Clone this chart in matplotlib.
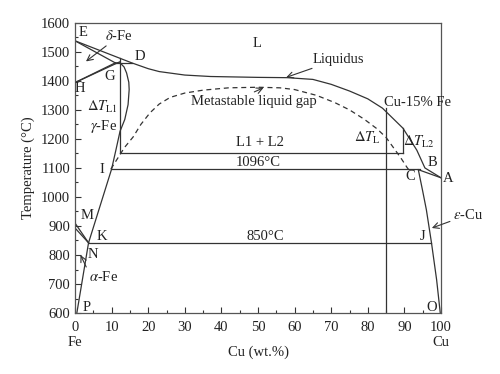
import numpy as np
import matplotlib
matplotlib.use('Agg')
import matplotlib.pyplot as plt

plt.rcParams['font.family'] = ['Liberation Serif', 'DejaVu Serif']
plt.rcParams['mathtext.fontset'] = 'stix'

# phase boundary data (Cu wt.%, temperature in C)
liq_x = [0, 15.5, 20, 23, 30, 37, 50, 58, 65, 70, 75, 80, 84, 89.6, 93.4, 95.6, 100]
liq_t = [1538, 1462, 1442, 1432, 1420, 1415, 1412, 1411, 1405, 1388, 1365, 1338, 1306, 1237, 1161, 1100, 1066]

gap_x = [9.8, 11.5, 13.5, 15.9, 18, 20.5, 23, 26, 30, 35, 42, 50, 56, 60, 66, 71, 75, 79, 82.5, 85, 87, 89, 90.7, 91.3]
gap_t = [1096, 1130, 1170, 1207, 1250, 1290, 1320, 1343, 1358, 1368, 1376, 1378, 1376, 1370, 1350, 1325, 1300, 1268, 1235, 1205, 1170, 1135, 1102, 1092]

gam_x = [11.0, 12.3, 13.4, 14.1, 14.7, 14.8, 14.5, 13.6, 12.3, 11.2, 10.0, 3.7, 0.5]
gam_t = [1462, 1462, 1448, 1427, 1395, 1370, 1318, 1267, 1226, 1163, 1096, 842, 600]

eps_x = [93.8, 95.0, 96.0, 97.4, 98.8, 99.8]
eps_t = [1094, 1020, 956, 842, 715, 600]

t_monotectic = 1096
t_eutectoid = 842
t_l1l2 = 1150
x_alloy = 85

fig = plt.figure(figsize=(5, 3.74), dpi=100)
ax = fig.add_axes([0.15, 0.163, 0.732, 0.776])

lc = '#333333'
lw = 0.9

ax.plot(liq_x, liq_t, color=lc, lw=lw)
ax.plot(gap_x, gap_t, color=lc, lw=lw, ls=(0, (4, 3)))
ax.plot(gam_x, gam_t, color=lc, lw=lw)
ax.plot(eps_x, eps_t, color=lc, lw=lw)

# delta-Fe region
ax.plot([0, 11.0], [1538, 1462], color=lc, lw=lw)
ax.plot([0, 11.0], [1394, 1462], color=lc, lw=lw)
ax.plot([0, 12.3], [1394, 1466], color=lc, lw=lw)
ax.plot([11.0, 15.5], [1462, 1462], color=lc, lw=lw)

# alpha/gamma lines
ax.plot([0, 3.7], [910, 842], color=lc, lw=lw)
ax.plot([0, 3.7], [893, 842], color=lc, lw=lw)

# wedge near Cu
ax.plot([93.8, 100], [1094, 1066], color=lc, lw=lw)

# horizontals
ax.plot([9.8, 94.2], [t_monotectic, t_monotectic], color=lc, lw=lw)
ax.plot([3.7, 97.4], [t_eutectoid, t_eutectoid], color=lc, lw=lw)
ax.plot([12.3, 89.6], [t_l1l2, t_l1l2], color=lc, lw=lw)

# verticals
ax.plot([12.3, 12.3], [t_l1l2, 1478], color=lc, lw=lw)
ax.plot([89.6, 89.6], [t_l1l2, 1237], color=lc, lw=lw)
ax.plot([x_alloy, x_alloy], [600, 1306], color=lc, lw=lw)

ax.set_xlim(0, 100)
ax.set_ylim(600, 1600)
ax.set_xticks(np.arange(0, 101, 10))
ax.set_xticks(np.arange(0, 101, 5), minor=True)
ax.set_yticks(np.arange(600, 1601, 100))
ax.set_yticks(np.arange(600, 1601, 50), minor=True)
ax.tick_params(which='both', direction='in', colors=lc, labelcolor='#222222', labelsize=10.5)
ax.tick_params(which='major', length=4, width=0.8)
ax.tick_params(which='minor', length=2.5, width=0.8)
ax.tick_params(axis='x', pad=6)
for s in ax.spines.values():
    s.set_color('#555555')
    s.set_linewidth(0.9)

ax.set_xlabel('Cu (wt.%)', fontsize=10.5, labelpad=8, color='#222222')
ax.set_ylabel('Temperature (°C)', fontsize=10.5, color='#222222')

fs = 10.5
tc = '#222222'
ax.text(0, 500, 'Fe', ha='center', va='center', fontsize=fs, color=tc, clip_on=False)
ax.text(100, 500, 'Cu', ha='center', va='center', fontsize=fs, color=tc, clip_on=False)

labels = [
    ('E', 2.2, 1565), ('D', 17.8, 1483), ('G', 9.6, 1414), ('H', 1.4, 1375),
    ('L', 49.7, 1530), ('I', 7.4, 1093), ('M', 3.3, 937), ('K', 7.3, 863),
    ('N', 5.0, 800), ('P', 3.2, 620), ('B', 97.8, 1118), ('A', 102.0, 1063),
    ('C', 91.5, 1070), ('J', 95.0, 863), ('O', 97.5, 620),
    ('L1 + L2', 50.5, 1187), ('1096°C', 50.0, 1120), ('850°C', 51.9, 863),
    (r'$\Delta T_{\rm L1}$', 7.4, 1310), (r'$\gamma$-Fe', 7.8, 1242),
]
for s, x, y in labels:
    ax.text(x, y, s, ha='center', va='center', fontsize=fs, color=tc, clip_on=False)

ax.text(84.5, 1327, 'Cu-15% Fe', ha='left', va='center', fontsize=fs, color=tc, clip_on=False)
ax.text(83.6, 1205, r'$\Delta T_{\rm L}$', ha='right', va='center', fontsize=fs, color=tc)
ax.text(89.6, 1190, r'$\Delta T_{\rm L2}$', ha='left', va='center', fontsize=fs, color=tc)

arr = dict(arrowstyle='->', color=lc, lw=0.8, shrinkA=0, shrinkB=0)
ax.annotate(r'$\delta$-Fe', xy=(3.0, 1467), xytext=(8.2, 1530), fontsize=fs, color=tc,
            ha='left', va='bottom', arrowprops=arr)
ax.annotate('Liquidus', xy=(57.7, 1412), xytext=(65, 1475), fontsize=fs, color=tc,
            ha='left', va='center', arrowprops=arr)
ax.annotate('Metastable liquid gap', xy=(51.5, 1376), xytext=(49, 1330), fontsize=fs, color=tc,
            ha='center', va='center', arrowprops=dict(arr, relpos=(0.45, 1.0)))
ax.annotate(r'$\alpha$-Fe', xy=(1.5, 800), xytext=(3.8, 725), fontsize=fs, color=tc,
            ha='left', va='center', arrowprops=dict(arr, relpos=(0.0, 0.8)))
ax.annotate(r'$\varepsilon$-Cu', xy=(97.5, 893), xytext=(103.2, 938), fontsize=fs, color=tc,
            ha='left', va='center', annotation_clip=False, arrowprops=arr)

plt.savefig('out.png', dpi=100)
